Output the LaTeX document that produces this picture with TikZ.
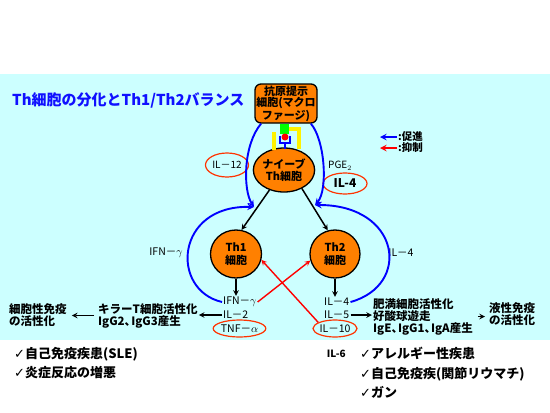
\documentclass[tikz,border=0pt]{standalone}
\usepackage{fontspec}
\setmainfont{Noto Sans CJK JP}
\newfontfamily\tickfont{DejaVu Sans}
\usetikzlibrary{shapes.geometric}

\definecolor{panelcyan}{HTML}{CCFFFF}
\definecolor{cellorange}{HTML}{FF8000}
\definecolor{ringred}{HTML}{FF3300}
\definecolor{titleblue}{HTML}{1010FF}

\newcommand{\tpause}{、\hspace{-5pt}}

\tikzset{
  cell/.style={ellipse, draw, line width=1.3pt, fill=cellorange, inner sep=0pt, align=center,
    font=\fontsize{11}{12.5}\selectfont\bfseries},
  ring/.style={ellipse, draw=ringred, line width=1.2pt, inner sep=0pt, minimum width=44, minimum height=18},
  promote/.style={blue, line width=1.9pt, -stealth},
  inhibit/.style={red, line width=1.4pt, -stealth},
  flow/.style={black, line width=1.5pt, -stealth},
  cyto/.style={inner sep=1pt, font=\fontsize{10.5}{12}\selectfont},
  effect/.style={inner sep=1pt, align=left, font=\fontsize{11.5}{12}\selectfont\bfseries},
  disease/.style={inner sep=0pt, align=left, font=\fontsize{13}{19.5}\selectfont\bfseries},
}

\begin{document}
\begin{tikzpicture}[x=1pt, y=-1pt]
    \useasboundingbox (0,0) rectangle (550,413);
    \fill[white] (0,0) rectangle (550,413);
    \fill[panelcyan] (0,74) rectangle (550,340);

    \node[anchor=west, inner sep=0pt, text=titleblue, font=\fontsize{15}{15}\selectfont\bfseries] (title) at (12,100) {Th細胞の分化とTh1/Th2バランス};

    % antigen presenting cell and naive T cell
    \node[draw, line width=1.3pt, fill=cellorange, rounded corners=6pt, minimum width=62, minimum height=39,
      inner sep=0pt, align=center, font=\fontsize{11}{11.5}\selectfont\bfseries] (apc) at (286,103.5) {抗原提示\\細胞(マクロ\\ファージ)};
    \node[cell, minimum width=47, minimum height=44] (naive) at (284,170) {ナイーブ\\Th細胞};

    \fill[yellow] (272,132) rectangle (276,150);
    \fill[yellow] (288,127) rectangle (301,131);
    \fill[yellow] (297,127) rectangle (301,149);
    \fill[green] (280,124) rectangle (289,134);
    \draw[blue, line width=2pt] (280,136) -- (280,143) -- (290,143) -- (290,136);
    \draw[blue, line width=2pt] (285,143) -- (285,149);
    \fill[red] (285,137) circle[radius=3.5];

    \node[cell, minimum width=51, minimum height=48] (th1) at (236,254) {Th1\\細胞};
    \node[cell, minimum width=50, minimum height=48] (th2) at (335,254) {Th2\\細胞};

    \coordinate (t1) at (254,207);
    \coordinate (t2) at (315,205);

    \draw[flow] (naive.234) -- (th1.77);
    \draw[flow] (naive.-46) -- (th2.107);

    % cytokines
    \node[ring, minimum width=43, minimum height=24, font=\fontsize{10}{12}\selectfont] (il12) at (227,165) {IL－12};
    \node[anchor=west, inner sep=0pt, font=\fontsize{10}{12}\selectfont] (pge) at (328,166) {PGE$_2$};
    \node[ring, minimum width=44, minimum height=21, font=\fontsize{12}{12}\selectfont\bfseries] (il4a) at (345,183.5) {IL-4\hspace{6pt}};

    \node[cyto, anchor=west] (ifn) at (222,302) {IFN－$\gamma$};
    \node[cyto, anchor=west] (il2) at (222,315) {IL－2};
    \node[cyto, ring, minimum width=45, minimum height=17] (tnf) at (239.5,328.5) {TNF－$\alpha$};

    \node[cyto, anchor=west] (il4b) at (323,302) {IL－4};
    \node[cyto, anchor=west] (il5) at (323,315) {IL－5};
    \node[cyto, ring, minimum width=44, minimum height=17] (il10) at (335,328.5) {IL－10};

    \node[cyto] (lbifn) at (166,253) {IFN－$\gamma$};
    \node[cyto] (lbil4) at (401,253) {IL－4};

    % feedback
    \draw[promote] (apc.219) .. controls (243,145) and (243,190) .. (t1);
    \draw[promote] (apc.-39) .. controls (325,140) and (328,190) .. (t2);
    \draw[promote] (ifn.west) .. controls (170,290) and (175,205) .. (t1);
    \draw[promote] (il4b.east) .. controls (412,285) and (400,205) .. (t2);

    \draw[flow] (th1.south) -- (th1.south |- ifn.north);
    \draw[flow] (th2.south) -- (th2.south |- il4b.north);

    \draw[inhibit] (ifn.east) -- (th2.195);
    \draw[inhibit] (il10.160) -- (th1.-13);

    % effects
    \node[effect, anchor=west] (killer) at (97,315.5) {キラーT細胞活性化\\IgG2\tpause IgG3産生};
    \node[effect, anchor=west] (cellimm) at (8,315.5) {細胞性免疫\\の活性化};
    \node[effect, anchor=west] (mast) at (372,316.5) {肥満細胞活性化\\好酸球遊走\\IgE\tpause IgG1\tpause IgA産生};
    \node[effect, anchor=west] (humoral) at (488,314) {液性免疫\\の活性化};

    \draw[flow] (il2.west) -- (il2.west -| killer.east);
    \draw[flow] ([xshift=-3pt]killer.west) -- ([xshift=4pt]killer.west -| cellimm.east);
    \draw[flow] (il5.east) -- (il5.east -| mast.west);
    \draw[flow] ([xshift=4pt]mast.east) -- ([xshift=-3pt]mast.east -| humoral.west);

    % legend
    \coordinate (lg1) at (397,137);
    \coordinate (lg2) at (397,148);
    \draw[promote] (lg1) -- +(-17,0);
    \draw[red, line width=1.9pt, -stealth] (lg2) -- +(-17,0);
    \node[anchor=west, inner sep=1pt, font=\fontsize{10.5}{12}\selectfont\bfseries] (lgpro) at (lg1) {:促進};
    \node[anchor=west, inner sep=1pt, font=\fontsize{10.5}{12}\selectfont\bfseries] (lginh) at (lg2) {:抑制};

    % diseases
    \node[disease, anchor=north west] (th1dis) at (14,347) {{\tickfont ✓}自己免疫疾患(SLE)\\{\tickfont ✓}炎症反応の増悪};
    \node[disease, anchor=north west] (th2dis) at (360,347) {{\tickfont ✓}アレルギー性疾患\\{\tickfont ✓}自己免疫疾(関節リウマチ)\\{\tickfont ✓}ガン};
    \node[anchor=east, inner sep=0pt, font=\fontsize{10}{12}\selectfont\bfseries] (il6) at (346,354) {IL-6};
\end{tikzpicture}
\end{document}
